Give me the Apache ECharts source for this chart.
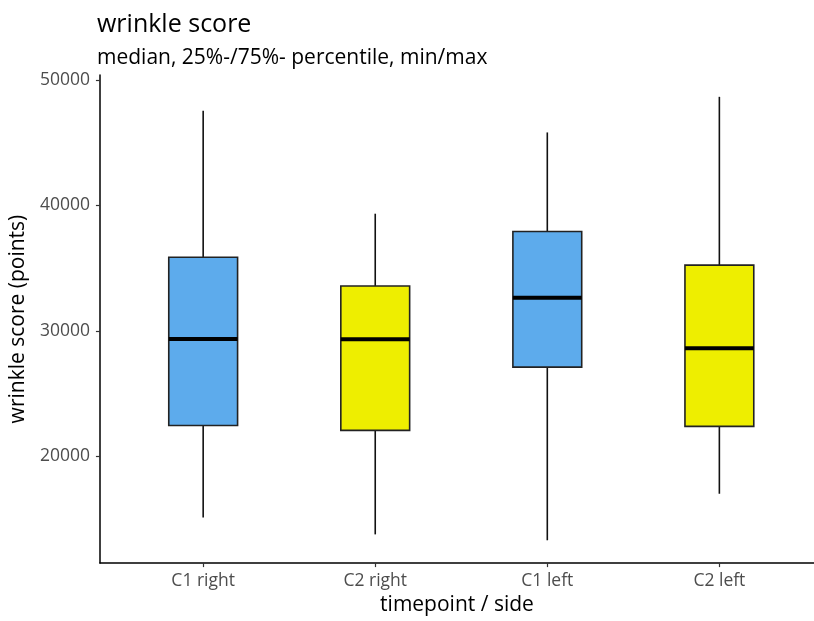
<!DOCTYPE html>
<html>
<head>
<meta charset="utf-8">
<script src="https://cdn.jsdelivr.net/npm/echarts@6/dist/echarts.min.js"></script>
<style>html,body{margin:0;padding:0;background:#fff;}#c{width:814px;height:621px;}</style>
</head>
<body>
<div id="c"></div>
<script>
const categories = ['C1 right', 'C2 right', 'C1 left', 'C2 left'];
const mins    = [15110, 13770, 13300, 17010];
const q1s     = [22450, 22060, 27110, 22380];
const medians = [29350, 29320, 32640, 28610];
const q3s     = [35870, 33580, 37920, 35240];
const maxs    = [47550, 39340, 45820, 48660];
const fills   = ['#5DABEC', '#EEEE00', '#5DABEC', '#EEEE00'];
const yTicks  = [20000, 30000, 40000, 50000];

const data = categories.map((c, i) => [i + 1, mins[i], q1s[i], medians[i], q3s[i], maxs[i]]);
const FONT = '"Open Sans", "Noto Sans", sans-serif';

const chart = echarts.init(document.getElementById('c'));
chart.setOption({
  backgroundColor: '#ffffff',
  animation: false,
  title: [
    { text: 'wrinkle score', left: 97, top: 12, padding: 0, textStyle: { fontFamily: FONT, fontSize: 25, fontWeight: 'normal', color: '#000' } },
    { text: 'median, 25%-/75%- percentile, min/max', left: 97, top: 48, padding: 0, textStyle: { fontFamily: FONT, fontSize: 21, fontWeight: 'normal', color: '#000' } }
  ],
  grid: { left: 96, right: 0, top: 75, bottom: 53 },
  xAxis: {
    type: 'value', min: 0.4, max: 4.55,
    name: 'timepoint / side', nameLocation: 'middle', nameGap: 39,
    nameTextStyle: { fontFamily: FONT, fontSize: 21, color: '#000', align: 'center', verticalAlign: 'middle' },
    axisLine: { show: true, onZero: false, lineStyle: { color: '#000', width: 1.5 } },
    axisTick: { show: true, length: 4, customValues: [1, 2, 3, 4], lineStyle: { color: '#333', width: 1.2 } },
    axisLabel: { customValues: [1, 2, 3, 4], formatter: v => categories[Math.round(v) - 1] || '', fontFamily: FONT, fontSize: 17.5, color: '#4d4d4d', margin: 9 },
    splitLine: { show: false }
  },
  yAxis: {
    type: 'value', min: 11480, max: 50400,
    name: 'wrinkle score (points)', nameLocation: 'middle', nameGap: 75, nameRotate: 90,
    nameTextStyle: { fontFamily: FONT, fontSize: 21, color: '#000', align: 'center', verticalAlign: 'middle' },
    axisLine: { show: true, onZero: false, lineStyle: { color: '#000', width: 1.5 } },
    axisTick: { show: true, length: 4, customValues: yTicks, lineStyle: { color: '#333', width: 1.2 } },
    axisLabel: { customValues: yTicks, formatter: v => String(v), fontFamily: FONT, fontSize: 17.5, color: '#4d4d4d', margin: 10 },
    splitLine: { show: false }
  },
  series: [{
    type: 'custom',
    data: data,
    encode: { x: 0, y: [1, 2, 3, 4, 5] },
    renderItem: function (params, api) {
      const x = api.value(0);
      const i = params.dataIndex;
      const half = api.size([0.4, 0])[0] / 2;
      const pMin = api.coord([x, api.value(1)]);
      const pQ1 = api.coord([x, api.value(2)]);
      const pMed = api.coord([x, api.value(3)]);
      const pQ3 = api.coord([x, api.value(4)]);
      const pMax = api.coord([x, api.value(5)]);
      const line = { stroke: '#111', lineWidth: 1.6 };
      return {
        type: 'group',
        children: [
          { type: 'line', shape: { x1: pMin[0], y1: pMin[1], x2: pQ1[0], y2: pQ1[1] }, style: line },
          { type: 'line', shape: { x1: pQ3[0], y1: pQ3[1], x2: pMax[0], y2: pMax[1] }, style: line },
          { type: 'rect', shape: { x: pQ3[0] - half, y: pQ3[1], width: half * 2, height: pQ1[1] - pQ3[1] },
            style: { fill: fills[i], stroke: '#222', lineWidth: 1.6 } },
          { type: 'line', shape: { x1: pMed[0] - half, y1: pMed[1], x2: pMed[0] + half, y2: pMed[1] }, style: { stroke: '#000', lineWidth: 4 } }
        ]
      };
    }
  }]
});
</script>
</body>
</html>
